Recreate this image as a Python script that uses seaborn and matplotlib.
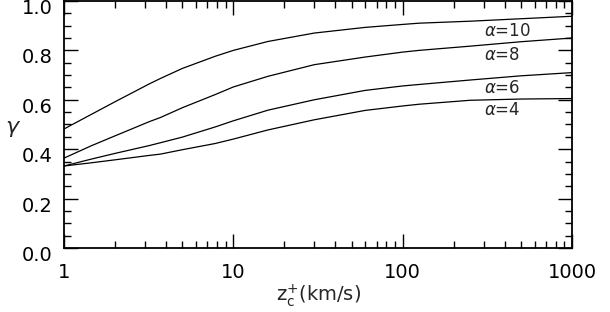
import numpy as np
import pandas as pd
import seaborn as sns
import matplotlib.pyplot as plt
import matplotlib.transforms as mtransforms
from matplotlib.ticker import FixedLocator, MultipleLocator, LogLocator, NullFormatter

# values
z_c = [1, 1.45, 2, 3.2, 3.7, 5, 7.8, 10, 16, 30, 60, 100, 125, 250, 500, 1000]
gamma_a10 = [0.482, 0.541, 0.592, 0.665, 0.686, 0.727, 0.776, 0.800, 0.836, 0.870, 0.893,
             0.905, 0.910, 0.918, 0.928, 0.938]
gamma_a8 = [0.364, 0.414, 0.454, 0.512, 0.528, 0.568, 0.621, 0.652, 0.695, 0.742, 0.773,
            0.793, 0.800, 0.817, 0.835, 0.850]
gamma_a6 = [0.332, 0.360, 0.383, 0.415, 0.426, 0.449, 0.490, 0.515, 0.558, 0.600, 0.638,
            0.656, 0.662, 0.680, 0.697, 0.710]
gamma_a4 = [0.332, 0.345, 0.357, 0.375, 0.380, 0.398, 0.423, 0.441, 0.478, 0.519, 0.557,
            0.575, 0.582, 0.598, 0.603, 0.605]
alphas = [10, 8, 6, 4]
label_y = [0.880, 0.783, 0.649, 0.560]
label_x = 303

rows = []
for a, g in zip(alphas, [gamma_a10, gamma_a8, gamma_a6, gamma_a4]):
    for z, v in zip(z_c, g):
        rows.append({'z': z, 'gamma': v, 'alpha': a})
df = pd.DataFrame(rows)

sns.set_style('ticks')
plt.rcParams['font.family'] = ['DejaVu Sans']

fig = plt.figure(figsize=(6.1, 3.12), dpi=100)
ax = fig.add_axes([0.105, 0.205, 0.833, 0.792])

sns.lineplot(data=df, x='z', y='gamma', hue='alpha', palette=['black'] * 4,
             legend=False, linewidth=0.9, ax=ax)

ax.set_xscale('log')
ax.set_xlim(1, 1000)
ax.set_ylim(0, 1.0)

ax.xaxis.set_major_locator(FixedLocator([1, 10, 100, 1000]))
ax.set_xticklabels(['1', '10', '100', '1000'])
ax.xaxis.set_minor_locator(LogLocator(base=10, subs=np.arange(2, 10)))
ax.xaxis.set_minor_formatter(NullFormatter())
ax.yaxis.set_major_locator(MultipleLocator(0.2))
ax.yaxis.set_minor_locator(MultipleLocator(0.05))
ax.set_yticklabels(['%.1f' % v for v in ax.get_yticks()])

ax.tick_params(which='both', direction='in', top=True, right=True, colors='black',
               labelsize=14, width=1)
ax.tick_params(which='major', length=10, pad=8)
ax.tick_params(axis='x', which='major', pad=11)
ax.tick_params(which='minor', length=5)
for s in ax.spines.values():
    s.set_linewidth(1.3)
    s.set_color('black')

# push the y tick labels down a little so 1.0 stays inside the figure
shift = mtransforms.ScaledTranslation(0, -4 / 72, fig.dpi_scale_trans)
for lab in ax.get_yticklabels():
    lab.set_transform(lab.get_transform() + shift)

ax.set_xlabel(r'z$_{\rm c}^{+}$(km/s)', fontsize=14, labelpad=0)
ax.set_ylabel(r'$\gamma$', fontsize=16, rotation=0, labelpad=0, va='center')
ax.yaxis.set_label_coords(-0.1, 0.48)

for a, y in zip(alphas, label_y):
    ax.text(label_x, y, r'$\alpha$=%d' % a, fontsize=12, ha='left', va='center')

fig.savefig('out.png', dpi=100)
